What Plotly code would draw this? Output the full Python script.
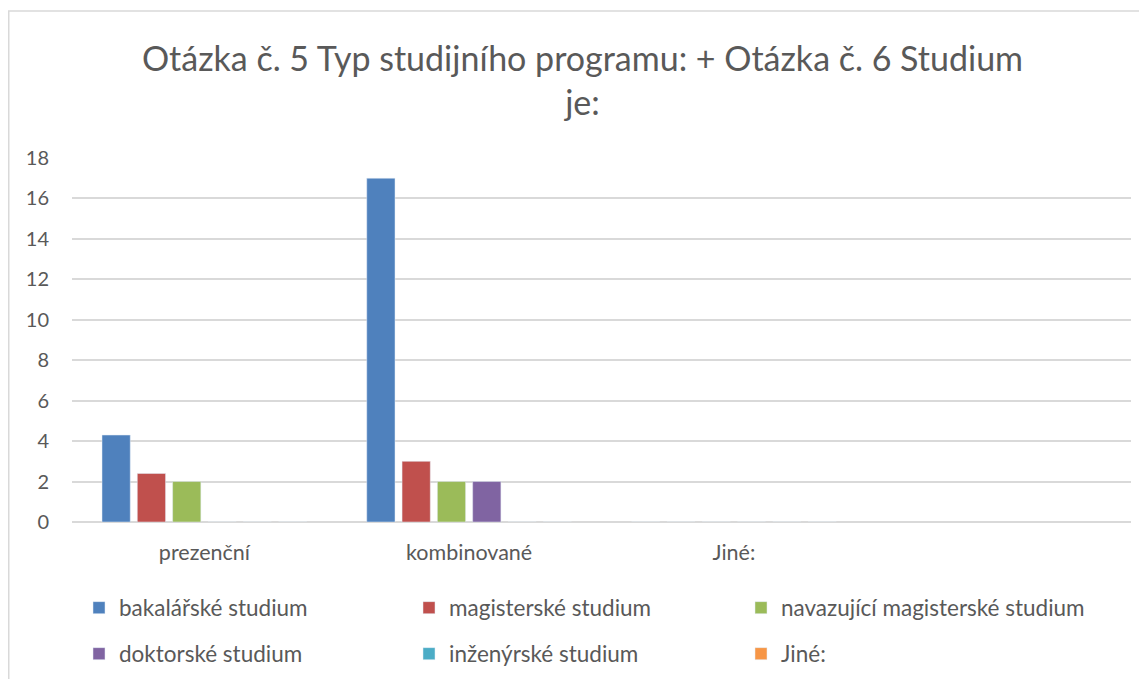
import plotly.graph_objects as go

categories = ["prezenční", "kombinované", "Jiné:", " "]
series_names = ["bakalářské studium", "magisterské studium", "navazující magisterské studium",
                "doktorské studium", "inženýrské studium", "Jiné:"]
bakalarske = [4.3, 17, 0, None]
magisterske = [2.4, 3, 0, None]
navazujici = [2, 2, 0, None]
doktorske = [0, 2, 0, None]
inzenyrske = [0, 0, 0, None]
jine = [0, 0, 0, None]
y_ticks = [0, 2, 4, 6, 8, 10, 12, 14, 16, 18]

values = [bakalarske, magisterske, navazujici, doktorske, inzenyrske, jine]
colors = ["#4F81BD", "#C0504D", "#9BBB59", "#8064A2", "#4BACC6", "#F79646"]

# page has an 8px body margin, so the figure is drawn 8px lower/right
W, H = 1139, 671
L, R, T, B = 64, 16, 150, 157
FONT = "Lato"
GREY = "#595959"

fig = go.Figure()
legend_pos = [(71, 600), (401, 600), (733, 600), (71, 646), (401, 646), (733, 646)]
for i, (name, vals, col) in enumerate(zip(series_names, values, colors)):
    lname = "legend" if i == 0 else f"legend{i+1}"
    fig.add_trace(go.Bar(x=categories, y=vals, name=name, marker_color=col,
                         legend=lname, showlegend=True))
    lx, ly = legend_pos[i]
    fig.update_layout(**{lname: dict(
        x=lx / W, y=1 - ly / H, xref="container", yref="container",
        xanchor="left", yanchor="middle", bgcolor="rgba(0,0,0,0)",
        font=dict(family=FONT, size=22.5, color=GREY), itemwidth=30,
        itemclick=False)})

fig.update_layout(
    width=W, height=H,
    showlegend=True,
    margin=dict(l=L, r=R, t=T, b=B, autoexpand=False),
    paper_bgcolor="white", plot_bgcolor="white",
    barmode="group", bargap=0.2, bargroupgap=0.2,
    title=dict(text="Otázka č. 5 Typ studijního programu: + Otázka č. 6 Studium<br>je:",
               x=574.5 / W, xanchor="center", y=1 - 63 / H, yanchor="top",
               font=dict(family=FONT, size=34, color=GREY)),
    font=dict(family=FONT, color=GREY),
    xaxis=dict(categoryorder="array", categoryarray=categories, showgrid=False,
               showline=False, zeroline=False, ticks="",
               tickfont=dict(family=FONT, size=21.5, color=GREY), ticklabelstandoff=15),
    yaxis=dict(range=[0, 18], tickvals=y_ticks, showgrid=True, gridcolor="#D9D9D9",
               gridwidth=1.5, zeroline=True, zerolinecolor="#D9D9D9", zerolinewidth=1.5,
               showline=False, ticks="",
               tickfont=dict(family=FONT, size=20, color=GREY), ticklabelstandoff=22),
    shapes=[dict(type="rect", xref="paper", yref="paper",
                 x0=(0.75 - L) / (W - L - R), x1=1.2,
                 y0=-0.6, y1=(H - B - 3) / (H - T - B),
                 line=dict(color="#D9D9D9", width=1.5), fillcolor="rgba(0,0,0,0)",
                 layer="below")],
)

fig.write_html("out.html")
